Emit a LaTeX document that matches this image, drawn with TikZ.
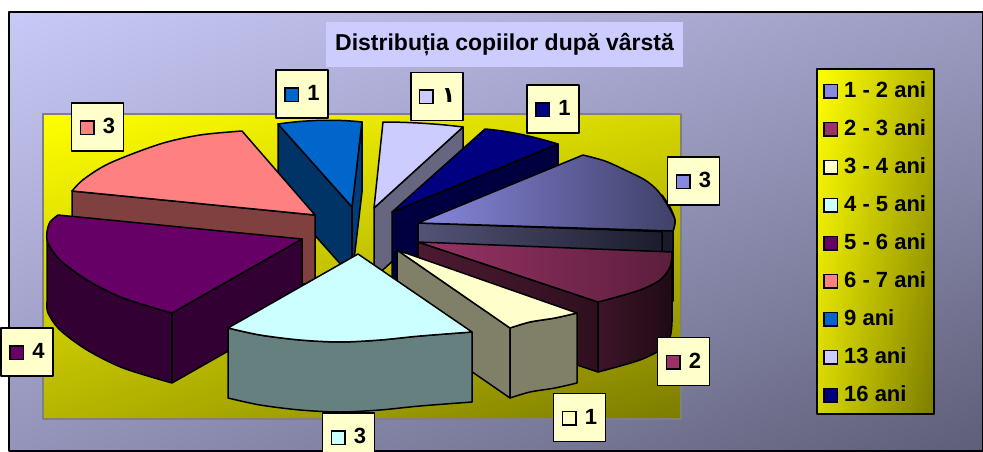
\documentclass[tikz,border=0pt]{standalone}
\usepackage{fontspec}
\setmainfont{Liberation Sans}
\newfontfamily\arabicfont[Script=Arabic]{DejaVu Sans}
\usetikzlibrary{positioning,shadings}

\definecolor{bgA}{HTML}{C9C9F7}
\definecolor{bgB}{HTML}{9C9CC2}
\definecolor{bgC}{HTML}{9494BA}
\definecolor{bgD}{HTML}{5E5E78}
\definecolor{titlebg}{HTML}{CCCCFF}
\definecolor{labelbg}{HTML}{FFFFCC}
\definecolor{yelA}{HTML}{FFFF00}
\definecolor{yelB}{HTML}{D6D600}
\definecolor{yelC}{HTML}{B5B500}
\definecolor{yelD}{HTML}{7C7C00}
\definecolor{ageA}{HTML}{8888E0}
\definecolor{ageAdark}{HTML}{404068}
\definecolor{ageB}{HTML}{993366}
\definecolor{ageBdark}{HTML}{4D1A33}
\definecolor{ageC}{HTML}{FFFFCC}
\definecolor{ageCside}{HTML}{808068}
\definecolor{ageD}{HTML}{CCFFFF}
\definecolor{ageDside}{HTML}{668080}
\definecolor{ageE}{HTML}{660066}
\definecolor{ageEside}{HTML}{330033}
\definecolor{ageF}{HTML}{FF8080}
\definecolor{ageFside}{HTML}{804040}
\definecolor{ageG}{HTML}{0066CC}
\definecolor{ageGside}{HTML}{003366}
\definecolor{ageH}{HTML}{CCCCFF}
\definecolor{ageHside}{HTML}{666680}
\definecolor{ageI}{HTML}{000080}
\definecolor{ageIside}{HTML}{000040}

\newcommand\sw[1]{{\setlength\fboxrule{1.5pt}\setlength\fboxsep{0pt}%
  \fcolorbox{black}{#1}{\rule{0pt}{12pt}\rule{12pt}{0pt}}}}

\begin{document}
\begin{tikzpicture}[x=1pt,y=-1pt,line join=round,
  edge/.style={draw=black,line width=1.5pt},
  datalabel/.style={draw=black,line width=1.5pt,fill=labelbg,minimum width=52pt,
    minimum height=48pt,inner sep=0pt,font=\fontsize{22}{24}\selectfont\bfseries}]
\useasboundingbox (0,0) rectangle (983,452);
\fill[white] (0,0) rectangle (983,452);
% chart area and plot area
\path[draw=black,line width=2pt,upper left=bgA,upper right=bgB,lower left=bgC,lower right=bgD]
  (9,12) rectangle (983,451);
\node (title) [fill=titlebg,minimum width=357pt,minimum height=45pt,
  font=\fontsize{23}{25}\selectfont\bfseries] at (504.5,44.5) {Distribuția copiilor după vârstă};
\path[draw=gray,line width=1.5pt,upper left=yelA,upper right=yelB,lower left=yelC,lower right=yelD]
  (43,114) rectangle (681,419);

% 9 ani
\filldraw[edge,fill=ageGside] (278,124) -- (352,207) -- (352,277) -- (278,194) -- cycle;
\filldraw[edge,fill=ageGside!80!ageG] (362,122) -- (352,207) -- (352,277) -- (362,192) -- cycle;
\filldraw[edge,fill=ageG] (278,124) .. controls (305,120) and (335,119) .. (362,122) -- (352,207) -- cycle;
% 13 ani
\filldraw[edge,fill=ageHside] (463,127) -- (374,208) -- (374,278) -- (463,197) -- cycle;
\filldraw[edge,fill=ageH] (383,122) .. controls (410,122) and (440,124) .. (463,127) -- (374,208) -- cycle;
% 16 ani
\filldraw[edge,fill=ageIside] (392,212) -- (558,144) -- (558,214) -- (392,282) -- cycle;
\filldraw[edge,fill=ageI] (392,212) -- (485,129) .. controls (510,131) and (535,137) .. (558,144) -- cycle;
% 6 - 7 ani
\filldraw[edge,fill=ageFside] (72,191) -- (315,215) -- (315,285) -- (72,261) -- cycle;
\filldraw[edge,fill=ageF] (315,215) -- (72,191)
  -- plot[smooth] coordinates {(72,191) (84,179) (110,163) (160,144) (200,135) (242,131)} -- cycle;
% 5 - 6 ani
\filldraw[edge,fill=ageEside] plot[smooth] coordinates {(47,232) (48,243) (60,260) (87,280) (123,298) (172,313)}
  -- (302,239) -- (302,309) -- (172,383)
  -- plot[smooth] coordinates {(172,383) (123,368) (87,350) (60,330) (48,313) (47,302)} -- cycle;
\draw[edge] (172,313) -- (172,383);
\filldraw[edge,fill=ageE] (302,239) -- (58,215)
  -- plot[smooth] coordinates {(58,215) (50,222) (47,232) (48,243) (60,260) (87,280) (123,298) (172,313)} -- cycle;
% 1 - 2 ani
\path[edge,left color=ageAdark!90!white,right color=ageAdark!40!black]
  (418,223) -- (672,232) -- (672,302) -- (418,293) -- cycle;
\filldraw[edge,fill=ageAdark!40!black] plot[smooth] coordinates {(662,195) (670,207) (675,220) (673,231)}
  -- (673,301) -- (673,290) -- (662,265) -- cycle;
\path[edge,left color=ageA,right color=ageAdark] (418,223) -- (583,155)
  -- plot[smooth] coordinates {(583,155) (605,161) (625,170) (645,180) (658,191) (668,206) (675,220) (673,231)} -- cycle;
% 2 - 3 ani
\path[edge,left color=ageBdark,right color=ageBdark!60!black]
  (418,242) -- (598,302) -- (598,372) -- (418,312) -- cycle;
\path[edge,left color=ageBdark!80!black,right color=ageBdark!40!black]
  plot[smooth] coordinates {(672,252) (670,267) (660,280) (640,290) (613,298) (598,302)}
  -- (598,372) -- plot[smooth] coordinates {(598,372) (613,368) (640,360) (660,350) (670,337) (672,322)} -- cycle;
\path[edge,left color=ageB,right color=ageB!60!black] (418,242) -- (672,252)
  -- plot[smooth] coordinates {(672,252) (670,267) (660,280) (640,290) (613,298) (598,302)} -- cycle;
% 3 - 4 ani
\filldraw[edge,fill=ageCside] (397,250) -- (510,328) -- (510,398) -- (397,320) -- cycle;
\filldraw[edge,fill=ageCside] plot[smooth] coordinates {(510,328) (530,322) (555,318) (577,313)}
  -- (577,383) -- plot[smooth] coordinates {(577,383) (555,388) (530,392) (510,398)} -- cycle;
\filldraw[edge,fill=ageC] (397,250) -- (577,313)
  -- plot[smooth] coordinates {(577,313) (555,318) (530,322) (510,328)} -- cycle;
% 4 - 5 ani
\filldraw[edge,fill=ageDside] plot[smooth] coordinates {(228,328) (260,335) (300,340) (340,342) (380,340) (420,336) (472,332)}
  -- (472,402) -- plot[smooth] coordinates {(472,402) (420,406) (380,410) (340,412) (300,410) (260,405) (228,398)} -- cycle;
\filldraw[edge,fill=ageD] (358,254) -- (472,332)
  -- plot[smooth] coordinates {(472,332) (420,336) (380,340) (340,342) (300,340) (260,335) (228,328)} -- cycle;

% data labels
\node (lab67) [datalabel] at (97.5,127) {\sw{ageF}\hspace{8pt}3};
\node (lab9) [datalabel] at (302,94) {\sw{ageG}\hspace{8pt}1};
\node (lab13) [datalabel] at (437,96.5) {\sw{ageH}\hspace{8pt}{\arabicfont ١}};
\node (lab16) [datalabel] at (553,109) {\sw{ageI}\hspace{8pt}1};
\node (lab12) [datalabel] at (693.5,181) {\sw{ageA}\hspace{8pt}3};
\node (lab23) [datalabel] at (683.5,361.5) {\sw{ageB}\hspace{8pt}2};
\node (lab34) [datalabel] at (579.5,417.5) {\sw{ageC}\hspace{8pt}1};
\node (lab45) [datalabel] at (348.5,437) {\sw{ageD}\hspace{8pt}3};
\node (lab56) [datalabel] at (27,352) {\sw{ageE}\hspace{8pt}4};

% legend
\node (legend) [draw=black,line width=2pt,upper left=yelA,upper right=yelC,lower left=yelB,lower right=yelD,
  minimum width=117pt,minimum height=345pt,anchor=north west] at (816,68) {};
\node (keys) [anchor=west,inner sep=0pt,font=\fontsize{22}{25}\selectfont\bfseries] at ([xshift=7pt]legend.west) {
\renewcommand\arraystretch{1.52}%
\begin{tabular}{@{}l@{}}
\sw{ageA}\hspace{6pt}1 - 2 ani \\
\sw{ageB}\hspace{6pt}2 - 3 ani \\
\sw{ageC}\hspace{6pt}3 - 4 ani \\
\sw{ageD}\hspace{6pt}4 - 5 ani \\
\sw{ageE}\hspace{6pt}5 - 6 ani \\
\sw{ageF}\hspace{6pt}6 - 7 ani \\
\sw{ageG}\hspace{6pt}9 ani \\
\sw{ageH}\hspace{6pt}13 ani \\
\sw{ageI}\hspace{6pt}16 ani \\
\end{tabular}};
\end{tikzpicture}
\end{document}
